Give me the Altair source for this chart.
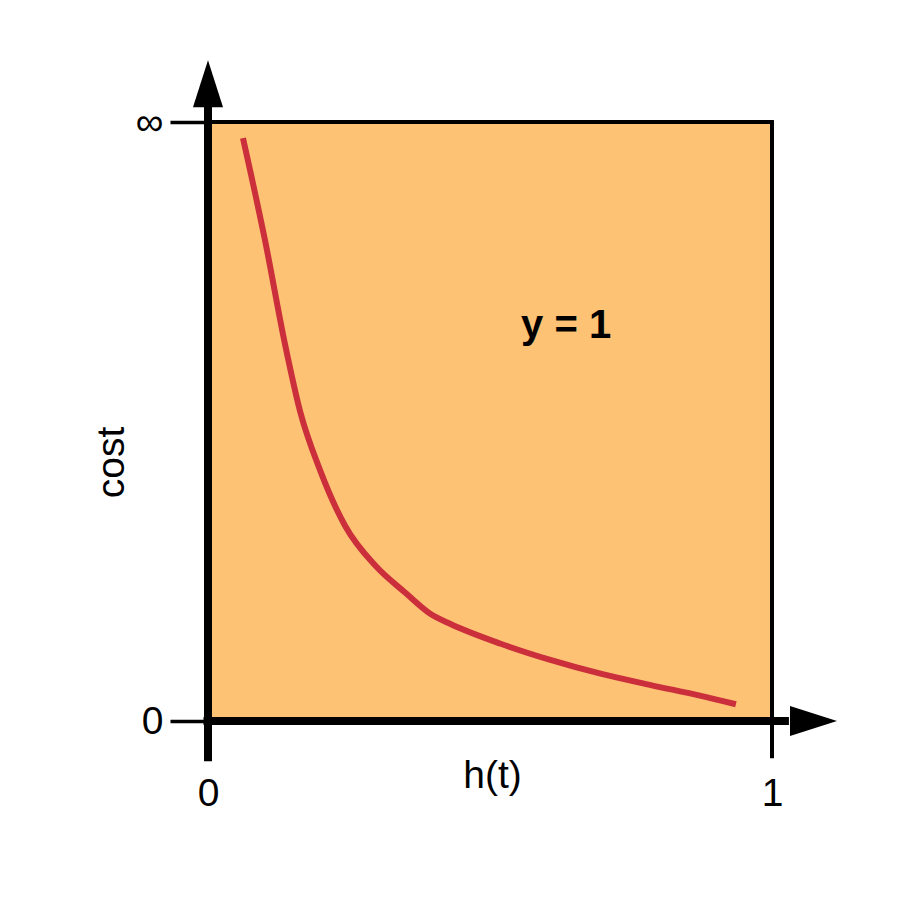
import altair as alt
import pandas as pd

# Curve (h(t), cost), both axes scaled 0..1
h_vals = [0.062, 0.101, 0.137, 0.163, 0.199, 0.243, 0.297, 0.350, 0.394, 0.430,
          0.519, 0.607, 0.696, 0.785, 0.874, 0.936]
cost_vals = [0.973, 0.803, 0.627, 0.518, 0.418, 0.326, 0.259, 0.214, 0.179, 0.162,
             0.129, 0.102, 0.079, 0.060, 0.042, 0.028]

x_ticks = [0, 1]
x_tick_labels = ["0", "1"]
y_ticks = [0, 1]
y_tick_labels = ["0", "∞"]

x_title = "h(t)"
y_title = "cost"
note = "y = 1"

FILL = "#fdc274"
RED = "#cb2f3c"
FONT = "Liberation Sans"
FS = 39

W, H = 564, 599

xs = alt.Scale(domain=[0, 1], nice=False, zero=False, clamp=False)
ys = alt.Scale(domain=[0, 1], nice=False, zero=False, clamp=False)


def expr(ticks, labels):
    parts = " : ".join(f"datum.value == {t} ? '{l}'" for t, l in zip(ticks, labels))
    return parts + " : ''"


x_axis = alt.Axis(values=x_ticks, labelExpr=expr(x_ticks, x_tick_labels), grid=False,
                  domain=False, ticks=True, tickSize=0, tickOpacity=0,
                  labelPadding=72, labelBaseline="middle", labelFontSize=FS,
                  labelFont=FONT, labelColor="black", labelFlush=False,
                  title=x_title, titleFont=FONT, titleFontSize=FS, titleFontWeight="normal",
                  titleColor="black", titleX=284, titleY=54, titleBaseline="middle",
                  titleAlign="center")
y_axis = alt.Axis(values=y_ticks, labelExpr=expr(y_ticks, y_tick_labels), grid=False,
                  domain=False, ticks=True, tickSize=38, tickWidth=3.5, tickColor="black",
                  labelPadding=7, labelFontSize=FS, labelFont=FONT, labelColor="black",
                  labelFlush=False,
                  title=y_title, titleFont=FONT, titleFontSize=FS, titleFontWeight="normal",
                  titleColor="black", titleX=-97, titleY=340, titleBaseline="middle",
                  titleAlign="center", titleAngle=270)


def X(f):
    return alt.X(f, scale=xs, axis=x_axis, title=x_title)


def Y(f):
    return alt.Y(f, scale=ys, axis=y_axis, title=y_title)


bg = alt.Chart(pd.DataFrame({"x": [x_ticks[0]], "x2": [x_ticks[1]],
                             "y": [y_ticks[0]], "y2": [y_ticks[1]]})).mark_rect(
    fill=FILL, stroke=None).encode(
    x=X("x:Q"), x2="x2:Q", y=Y("y:Q"), y2="y2:Q",
)

thin = pd.DataFrame({
    "x": [0.0, 1.0], "x2": [1.003, 1.0],
    "y": [1.0, -0.062], "y2": [1.0, 1.003],
})
thick = pd.DataFrame({
    "x": [0.0, -0.008], "x2": [0.0, 1.03],
    "y": [-0.067, 0.0], "y2": [1.03, 0.0],
})


def rules(df, w):
    return alt.Chart(df).mark_rule(color="black", strokeWidth=w).encode(
        x=X("x:Q"), x2="x2:Q", y=Y("y:Q"), y2="y2:Q")


curve = alt.Chart(pd.DataFrame({"x": h_vals, "y": cost_vals})).mark_line(
    color=RED, strokeWidth=6, interpolate="monotone").encode(
    x=X("x:Q"), y=Y("y:Q"), order="x:Q",
)

up_arrow = alt.Chart(pd.DataFrame({"x": [0.0], "y": [1.064]})).mark_point(
    shape="M0,-1L0.64,1L-0.64,1Z", size=47 * 47, filled=True, fill="black",
    opacity=1, strokeWidth=0).encode(x=X("x:Q"), y=Y("y:Q"))

right_arrow = alt.Chart(pd.DataFrame({"x": [1.0736], "y": [0.0]})).mark_point(
    shape="M1,0L-1,-0.64L-1,0.64Z", size=47 * 47, filled=True, fill="black",
    opacity=1, strokeWidth=0).encode(x=X("x:Q"), y=Y("y:Q"))

label = alt.Chart(pd.DataFrame({"x": [0.635], "y": [0.659], "t": [note]})).mark_text(
    font=FONT, fontSize=40, fontWeight="bold", color="black", align="center",
    baseline="middle").encode(x=X("x:Q"), y=Y("y:Q"), text="t:N")

chart = alt.layer(bg, rules(thin, 4), curve, rules(thick, 8), up_arrow, right_arrow,
                  label).properties(
    width=W, height=H,
    autosize=alt.AutoSizeParams(type="none"),
    padding={"left": 200, "top": 114, "right": 126, "bottom": 184},
).configure_view(stroke=None).configure(background="white")

chart.save("out.html", embed_options={"renderer": "svg", "actions": False})
